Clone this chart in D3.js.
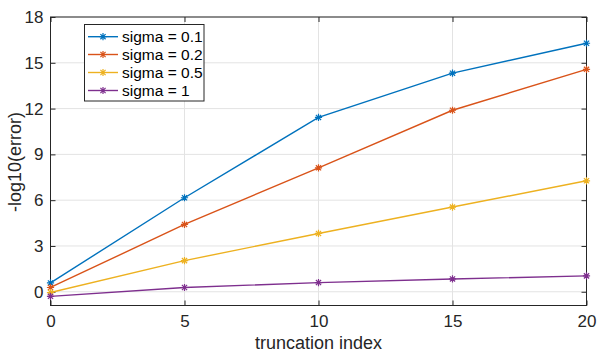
<!DOCTYPE html>
<html><head><meta charset="utf-8">
<script src="https://cdn.jsdelivr.net/npm/d3@7"></script>
<style>body{margin:0;background:#fff}svg{display:block}text{font-family:"Liberation Sans",Arial,Helvetica,sans-serif}</style>
</head><body><svg id="c" width="604" height="357"></svg>
<script>
const xValues = [0, 5, 10, 15, 20];
const seriesNames = ["sigma = 0.1", "sigma = 0.2", "sigma = 0.5", "sigma = 1"];
const sigma01 = [0.58, 6.16, 11.42, 14.32, 16.28];
const sigma02 = [0.28, 4.41, 8.12, 11.89, 14.57];
const sigma05 = [-0.05, 2.04, 3.82, 5.55, 7.27];
const sigma1 = [-0.30, 0.28, 0.60, 0.84, 1.04];
const colors = ["#0072BD", "#D95319", "#EDB120", "#7E2F8E"];
const xTicks = [0, 5, 10, 15, 20];
const yTicks = [0, 3, 6, 9, 12, 15, 18];

const series = [sigma01, sigma02, sigma05, sigma1];
const svg = d3.select("#c");
const L = 50.5, R = 586.5, T = 17, B = 305.5;
const x = d3.scaleLinear().domain([0, 20]).range([L, R]);
const y = d3.scaleLinear().domain([-0.9, 18]).range([B, T]);

// grid
svg.append("g").selectAll("line").data(xTicks).join("line")
  .attr("x1", d => x(d)).attr("x2", d => x(d)).attr("y1", T).attr("y2", B)
  .attr("stroke", "#e3e3e3").attr("stroke-width", 1);
svg.append("g").selectAll("line").data(yTicks).join("line")
  .attr("x1", L).attr("x2", R).attr("y1", d => y(d)).attr("y2", d => y(d))
  .attr("stroke", "#e3e3e3").attr("stroke-width", 1);

// axes
const ax = d3.axisBottom(x).tickValues(xTicks).tickSize(-5).tickPadding(9);
const gx = svg.append("g").attr("transform", `translate(0,${B})`).call(ax);
const ay = d3.axisLeft(y).tickValues(yTicks).tickSize(-5).tickPadding(7);
const gy = svg.append("g").attr("transform", `translate(${L},0)`).call(ay);
const axTop = d3.axisTop(x).tickValues(xTicks).tickSize(-5).tickFormat("");
const gxt = svg.append("g").attr("transform", `translate(0,${T})`).call(axTop);
const ayR = d3.axisRight(y).tickValues(yTicks).tickSize(-5).tickFormat("");
const gyr = svg.append("g").attr("transform", `translate(${R},0)`).call(ayR);
[gx, gy, gxt, gyr].forEach(g => {
  g.select(".domain").remove();
  g.selectAll("line").attr("stroke", "#262626");
  g.selectAll("text").attr("fill", "#262626").style("font-size", "17px");
});
svg.append("rect").attr("x", L).attr("y", T).attr("width", R - L).attr("height", B - T)
  .attr("fill", "none").attr("stroke", "#262626").attr("stroke-width", 1);

// labels
svg.append("text").attr("x", (L + R) / 2).attr("y", 349).attr("text-anchor", "middle")
  .attr("fill", "#262626").style("font-size", "18px").text("truncation index");
svg.append("text").attr("transform", `translate(21,162) rotate(-90)`)
  .attr("text-anchor", "middle").attr("fill", "#262626").style("font-size", "18px").text("-log10(error)");

function star(g, cx, cy, color) {
  const r = 3.6, d = r * 0.72;
  const p = `M${cx - r},${cy}L${cx + r},${cy}M${cx},${cy - r}L${cx},${cy + r}M${cx - d},${cy - d}L${cx + d},${cy + d}M${cx - d},${cy + d}L${cx + d},${cy - d}`;
  g.append("path").attr("d", p).attr("stroke", color).attr("stroke-width", 1.2).attr("fill", "none");
}

const line = d3.line().x((d, i) => x(xValues[i])).y(d => y(d));
series.forEach((s, k) => {
  const g = svg.append("g");
  g.append("path").attr("d", line(s)).attr("fill", "none").attr("stroke", colors[k]).attr("stroke-width", 1.4);
  s.forEach((v, i) => star(g, x(xValues[i]), y(v), colors[k]));
});

// legend
const lg = svg.append("g");
lg.append("rect").attr("x", 84.5).attr("y", 24.5).attr("width", 119.5).attr("height", 76.5)
  .attr("fill", "#fff").attr("stroke", "#262626").attr("stroke-width", 1);
const ly = [36.7, 54.5, 72.5, 90.5];
seriesNames.forEach((n, k) => {
  lg.append("line").attr("x1", 88).attr("x2", 118).attr("y1", ly[k]).attr("y2", ly[k])
    .attr("stroke", colors[k]).attr("stroke-width", 1.4);
  star(lg, 103, ly[k], colors[k]);
  lg.append("text").attr("x", 122).attr("y", ly[k] + 5.5).attr("fill", "#000")
    .style("font-size", "15.5px").text(n);
});
</script></body></html>
